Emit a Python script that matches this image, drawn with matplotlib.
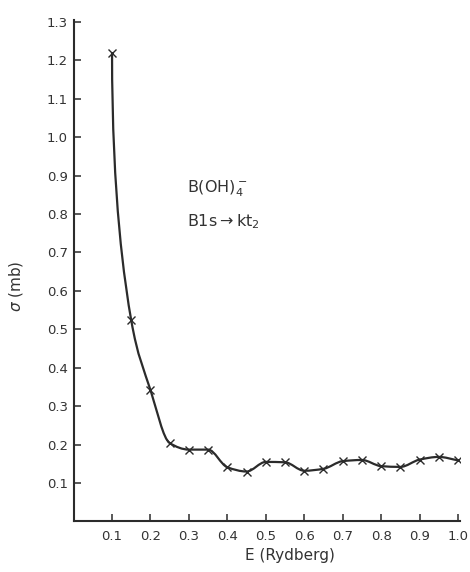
import numpy as np
import matplotlib
matplotlib.use('Agg')
import matplotlib.pyplot as plt
from matplotlib.path import Path
from matplotlib.patches import PathPatch


# cross section data
energy = [0.10, 0.15, 0.20, 0.25, 0.30, 0.35, 0.40, 0.45, 0.50, 0.55,
          0.60, 0.65, 0.70, 0.75, 0.80, 0.85, 0.90, 0.95, 1.00]
sigma = [1.220, 0.523, 0.342, 0.204, 0.187, 0.187, 0.141, 0.130, 0.155, 0.154,
         0.132, 0.137, 0.157, 0.160, 0.144, 0.142, 0.161, 0.168, 0.159]
xticks = [0.1, 0.2, 0.3, 0.4, 0.5, 0.6, 0.7, 0.8, 0.9, 1.0]
yticks = [0.1, 0.2, 0.3, 0.4, 0.5, 0.6, 0.7, 0.8, 0.9, 1.0, 1.1, 1.2, 1.3]

ink = '#2b2b2b'


def pchip_slopes(x, y):
    # monotone slopes so the hand-drawn look has no overshoot
    h = np.diff(x)
    d = np.diff(y) / h
    m = np.zeros_like(x)
    for i in range(1, len(x) - 1):
        if d[i - 1] * d[i] > 0:
            m[i] = 2.0 / (1.0 / d[i - 1] + 1.0 / d[i])
    m[-1] = d[-1]
    m[0] = d[0]
    return m


def smooth_path(x, y):
    x = np.asarray(x, float)
    y = np.asarray(y, float)
    m = pchip_slopes(x, y)
    verts = [(x[0], y[0])]
    codes = [Path.MOVETO]
    for i in range(len(x) - 1):
        h = x[i + 1] - x[i]
        if i == 0:
            # curve leaves the first point going straight down
            c1 = (x[0], y[0] + 0.55 * (y[1] - y[0]))
        else:
            c1 = (x[i] + h / 3, y[i] + m[i] * h / 3)
        c2 = (x[i + 1] - h / 3, y[i + 1] - m[i + 1] * h / 3)
        verts += [c1, c2, (x[i + 1], y[i + 1])]
        codes += [Path.CURVE4] * 3
    return Path(verts, codes)


fig = plt.figure(figsize=(4.7, 5.72), dpi=100)
ax = fig.add_axes([0.1566, 0.0883, 0.822, 0.877])

ax.add_patch(PathPatch(smooth_path(energy, sigma), facecolor='none',
                       edgecolor=ink, lw=1.6))
ax.plot(energy, sigma, ls='none', marker='x', ms=6, mew=1.0, color=ink)

ax.set_xlim(0, 1.005)
ax.set_ylim(0, 1.305)
ax.set_xticks(xticks)
ax.set_yticks(yticks)
ax.set_xticklabels(['%.1f' % v for v in xticks])
ax.set_yticklabels(['%.1f' % v for v in yticks])

for s in ['top', 'right']:
    ax.spines[s].set_visible(False)
for s in ['left', 'bottom']:
    ax.spines[s].set_color(ink)
    ax.spines[s].set_linewidth(1.5)
ax.tick_params(direction='in', length=5, width=1.1, color=ink,
               labelsize=9.5, labelcolor='#333333')
ax.tick_params(axis='x', pad=6)
ax.tick_params(axis='y', pad=4)

ax.set_xlabel('E (Rydberg)', fontsize=11, color='#333333')
ax.xaxis.set_label_coords(0.56, -0.052)
ax.set_ylabel(r'$\sigma$ (mb)', fontsize=11, color='#333333')
ax.yaxis.set_label_coords(-0.125, 0.47)

ax.text(0.295, 0.866, r'B(OH)$_4^-$', fontsize=11.5, color='#333333',
        va='center')
ax.text(0.295, 0.78, r'B1s$\rightarrow$kt$_2$', fontsize=11.5,
        color='#333333', va='center')

fig.savefig('out.png', dpi=100)
